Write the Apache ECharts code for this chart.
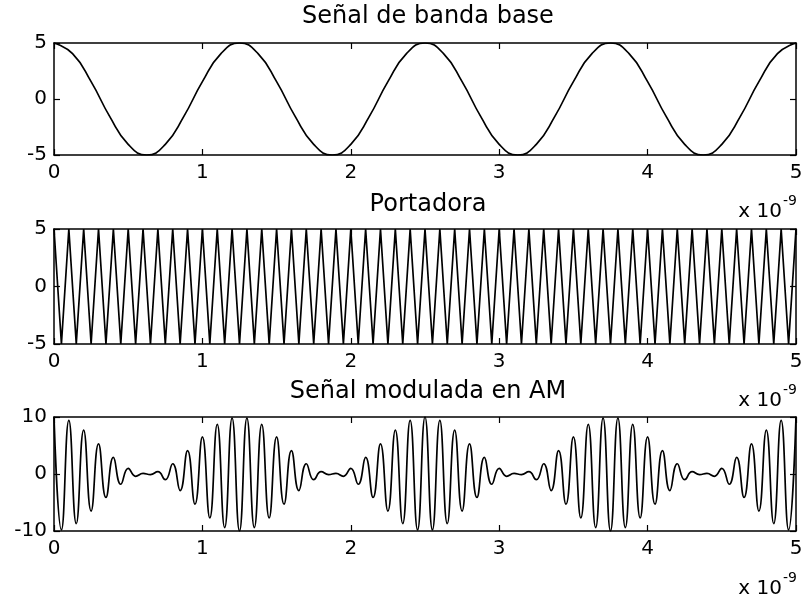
<!DOCTYPE html>
<html>
<head>
<meta charset="utf-8">
<script src="https://cdn.jsdelivr.net/npm/echarts@6/dist/echarts.min.js"></script>
<style>
  html, body { margin: 0; padding: 0; background: #ffffff; }
  #chart { width: 808px; height: 601px; }
</style>
</head>
<body>
<div id="chart"></div>
<script>
// Time axis (units of 1e-9 s)
const timeTicks = [0, 1, 2, 3, 4, 5];

// Baseband signal, sampled every 0.125 ns
const basebandStep = 0.125;
const basebandValues = [
  5, 4.05, 1.55, -1.55, -4.05, -5, -4.05, -1.55, 1.55, 4.05,
  5, 4.05, 1.55, -1.55, -4.05, -5, -4.05, -1.55, 1.55, 4.05,
  5, 4.05, 1.55, -1.55, -4.05, -5, -4.05, -1.55, 1.55, 4.05,
  5, 4.05, 1.55, -1.55, -4.05, -5, -4.05, -1.55, 1.55, 4.05,
  5
];

// Carrier, crest/trough values every 0.05 ns
const carrierStep = 0.05;
const carrierValues = [
  5, -5, 5, -5, 5, -5, 5, -5, 5, -5, 5, -5, 5, -5, 5, -5, 5, -5, 5, -5,
  5, -5, 5, -5, 5, -5, 5, -5, 5, -5, 5, -5, 5, -5, 5, -5, 5, -5, 5, -5,
  5, -5, 5, -5, 5, -5, 5, -5, 5, -5, 5, -5, 5, -5, 5, -5, 5, -5, 5, -5,
  5, -5, 5, -5, 5, -5, 5, -5, 5, -5, 5, -5, 5, -5, 5, -5, 5, -5, 5, -5,
  5, -5, 5, -5, 5, -5, 5, -5, 5, -5, 5, -5, 5, -5, 5, -5, 5, -5, 5, -5,
  5
];

// AM signal, crest/trough values every 0.05 ns
const amStep = 0.05;
const amValues = [
  10, -9.8, 9.4, -8.7, 7.7, -6.5, 5.3, -4.1, 2.9, -1.8, 1.0, -0.4, 0.1, -0.1, 0.4, -1.0, 1.8, -2.9, 4.1, -5.3, 6.5, -7.7, 8.7, -9.4, 9.8,
  -10, 9.8, -9.4, 8.7, -7.7, 6.5, -5.3, 4.1, -2.9, 1.8, -1.0, 0.4, -0.1, 0.1, -0.4, 1.0, -1.8, 2.9, -4.1, 5.3, -6.5, 7.7, -8.7, 9.4, -9.8,
  10, -9.8, 9.4, -8.7, 7.7, -6.5, 5.3, -4.1, 2.9, -1.8, 1.0, -0.4, 0.1, -0.1, 0.4, -1.0, 1.8, -2.9, 4.1, -5.3, 6.5, -7.7, 8.7, -9.4, 9.8,
  -10, 9.8, -9.4, 8.7, -7.7, 6.5, -5.3, 4.1, -2.9, 1.8, -1.0, 0.4, -0.1, 0.1, -0.4, 1.0, -1.8, 2.9, -4.1, 5.3, -6.5, 7.7, -8.7, 9.4, -9.8,
  10
];

const panelTitles = ['Señal de banda base', 'Portadora', 'Señal modulada en AM'];
const yRanges = [[-5, 5, 5], [-5, 5, 5], [-10, 10, 10]];
const scaleNote = 'x 10';
const scaleExp = '-9';

const FONT = 'DejaVu Sans';
const INK = '#000000';

const toPairs = (vals, step) => vals.map((v, i) => [i * step, v]);

const grids = [
  { left: 54, top: 43, width: 742, height: 112 },
  { left: 54, top: 229, width: 742, height: 115 },
  { left: 54, top: 417, width: 742, height: 114 }
];

const xAxes = [];
const yAxes = [];
grids.forEach((g, i) => {
  const common = {
    gridIndex: i,
    type: 'value',
    min: timeTicks[0],
    max: timeTicks[timeTicks.length - 1],
    interval: 1,
    splitLine: { show: false },
    axisLine: { show: true, onZero: false, lineStyle: { color: INK, width: 1.5 } },
    axisTick: { show: true, inside: true, length: 6, lineStyle: { color: INK, width: 1.2 } }
  };
  xAxes.push(Object.assign({}, common, {
    position: 'bottom',
    axisLabel: { show: true, color: INK, fontFamily: FONT, fontSize: 20, margin: 8 }
  }));
  xAxes.push(Object.assign({}, common, {
    position: 'top',
    axisLabel: { show: false }
  }));
  const [lo, hi, step] = yRanges[i];
  const ycommon = {
    gridIndex: i,
    type: 'value',
    min: lo,
    max: hi,
    interval: step,
    splitLine: { show: false },
    axisLine: { show: true, onZero: false, lineStyle: { color: INK, width: 1.5 } },
    axisTick: { show: true, inside: true, length: 6, lineStyle: { color: INK, width: 1.2 } }
  };
  yAxes.push(Object.assign({}, ycommon, {
    position: 'left',
    axisLabel: { show: true, color: INK, fontFamily: FONT, fontSize: 20, margin: 7 }
  }));
  yAxes.push(Object.assign({}, ycommon, {
    position: 'right',
    axisLabel: { show: false }
  }));
});

const lineStyle = { color: INK, width: 1.7 };
const series = [
  { type: 'line', xAxisIndex: 0, yAxisIndex: 0, data: toPairs(basebandValues, basebandStep), smooth: true, showSymbol: false, lineStyle },
  { type: 'line', xAxisIndex: 2, yAxisIndex: 2, data: toPairs(carrierValues, carrierStep), smooth: false, showSymbol: false, lineStyle },
  { type: 'line', xAxisIndex: 4, yAxisIndex: 4, data: toPairs(amValues, amStep), smooth: true, showSymbol: false, lineStyle }
];

// Panel titles and the "x 10^-9" scale notes
const titleY = [17, 205, 392];
const noteY = [212, 401, 589];
const graphic = [];
panelTitles.forEach((t, i) => {
  graphic.push({
    type: 'text', x: 428, y: titleY[i],
    style: { text: t, fill: INK, font: '24px "' + FONT + '"', textAlign: 'center', textVerticalAlign: 'middle' }
  });
  graphic.push({
    type: 'text', x: 782, y: noteY[i],
    style: { text: scaleNote, fill: INK, font: '20px "' + FONT + '"', textAlign: 'right', textVerticalAlign: 'middle' }
  });
  graphic.push({
    type: 'text', x: 783, y: noteY[i] - 11,
    style: { text: scaleExp, fill: INK, font: '14px "' + FONT + '"', textAlign: 'left', textVerticalAlign: 'middle' }
  });
});

const chart = echarts.init(document.getElementById('chart'), null, { renderer: 'canvas' });
chart.setOption({
  animation: false,
  backgroundColor: '#ffffff',
  grid: grids,
  xAxis: xAxes,
  yAxis: yAxes,
  series,
  graphic
});
</script>
</body>
</html>
